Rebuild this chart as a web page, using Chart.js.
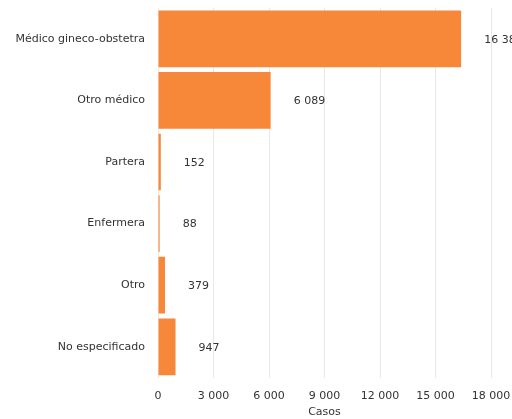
<!DOCTYPE html>
<html>
<head>
<meta charset="utf-8">
<script src="https://cdn.jsdelivr.net/npm/chart.js@4/dist/chart.umd.min.js"></script>
<style>
  html, body { margin: 0; padding: 0; background: #fff; }
  canvas { display: block; }
</style>
</head>
<body>
<canvas id="c" width="512" height="419"></canvas>
<script>
const categories = ["Médico gineco-obstetra", "Otro médico", "Partera", "Enfermera", "Otro", "No especificado"];
const casos = [16386, 6089, 152, 88, 379, 947];
const xTicks = [0, 3000, 6000, 9000, 12000, 15000, 18000];

const fmt = v => String(v).replace(/\B(?=(\d{3})+(?!\d))/g, " ");
const FONT = "'DejaVu Sans', sans-serif";

// Writes each bar's value just past its end
const valueLabels = {
  id: "valueLabels",
  afterDatasetsDraw(chart) {
    const ctx = chart.ctx;
    const meta = chart.getDatasetMeta(0);
    ctx.save();
    ctx.font = "11px " + FONT;
    ctx.fillStyle = "#333";
    ctx.textAlign = "left";
    ctx.textBaseline = "middle";
    meta.data.forEach((bar, i) => {
      ctx.fillText(fmt(casos[i]), bar.x + 23, bar.y + 1);
    });
    ctx.restore();
  }
};

new Chart(document.getElementById("c"), {
  type: "bar",
  data: {
    labels: categories,
    datasets: [{
      data: casos,
      backgroundColor: "#F7883A",
      borderWidth: 0,
      barPercentage: 0.92,
      categoryPercentage: 1
    }]
  },
  options: {
    indexAxis: "y",
    responsive: false,
    animation: false,
    layout: { padding: { top: 8, right: 0, bottom: 0, left: 0 } },
    plugins: { legend: { display: false }, tooltip: { enabled: false } },
    scales: {
      x: {
        min: 0, max: 18000,
        afterBuildTicks(scale) { scale.ticks = xTicks.map(v => ({ value: v })); },
        afterFit(scale) { scale.paddingRight = 21; },
        ticks: {
          callback: v => fmt(v),
          font: { family: FONT, size: 11 },
          color: "#333",
          padding: 12,
          maxRotation: 0
        },
        grid: { color: "#e8e8e8", drawTicks: false },
        border: { display: false },
        title: {
          display: true, text: "Casos",
          font: { family: FONT, size: 11 },
          color: "#333",
          padding: { top: -9, bottom: 0 }
        }
      },
      y: {
        afterFit(scale) { scale.width = 158; scale.paddingTop = 0; scale.paddingBottom = 0; },
        ticks: {
          font: { family: FONT, size: 11 },
          color: "#333",
          padding: 5
        },
        grid: { display: false },
        border: { display: true, color: "#e8e8e8" }
      }
    }
  },
  plugins: [valueLabels]
});
</script>
</body>
</html>
